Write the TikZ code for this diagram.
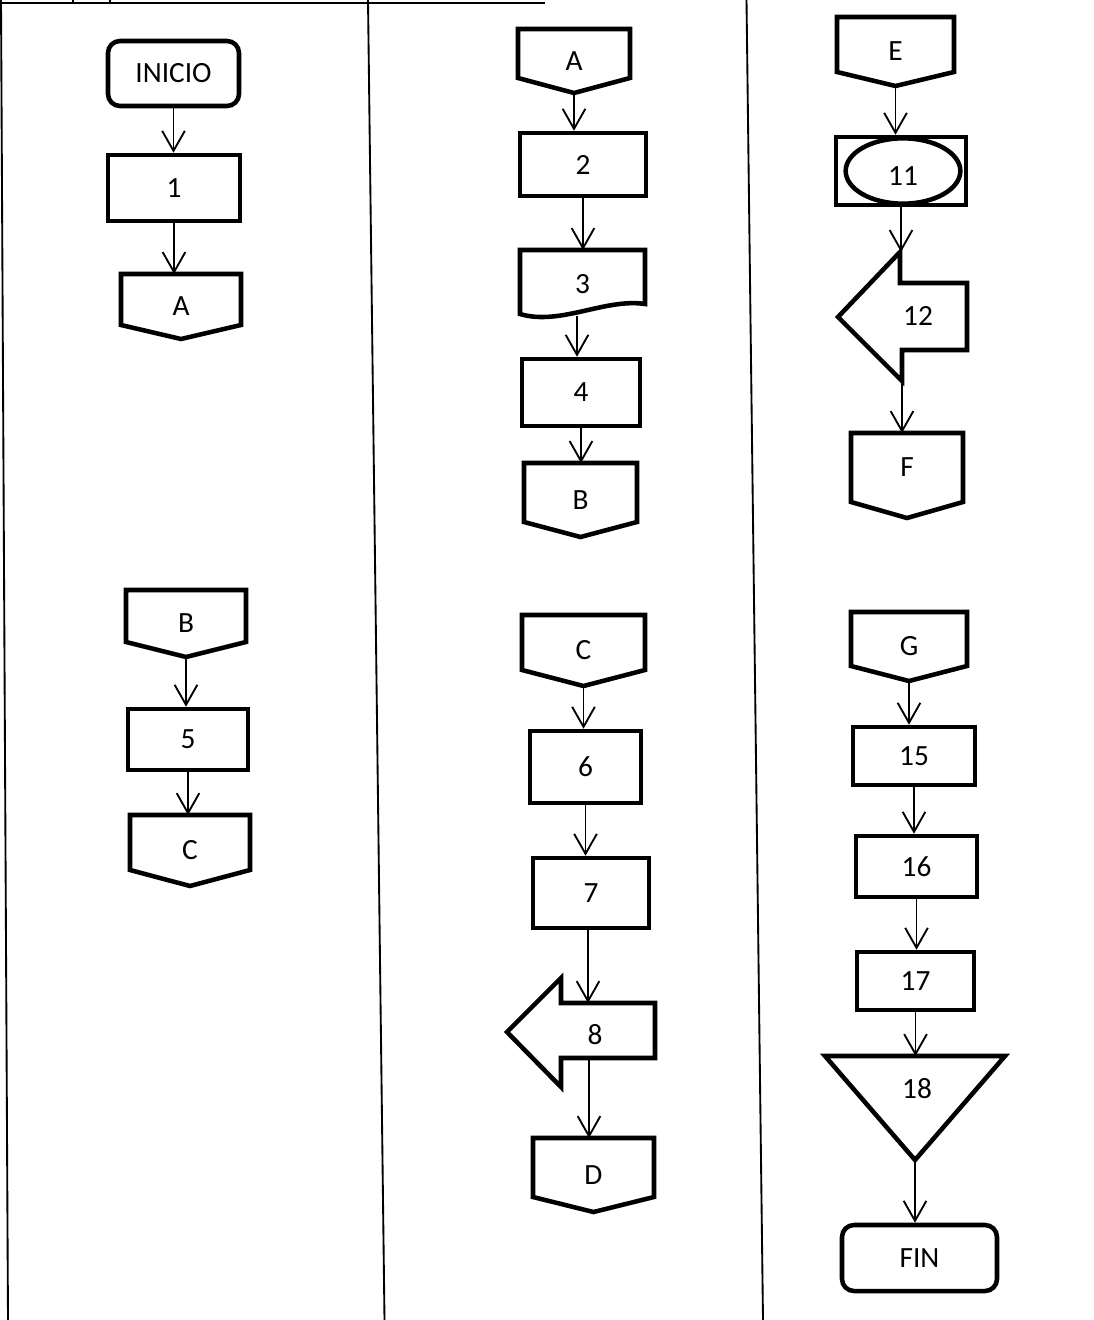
\documentclass[tikz,border=0pt]{standalone}
\usepackage{fontspec}
\setmainfont{Carlito}
\usetikzlibrary{arrows.meta,calc}
\newcommand{\opconn}[2]{\draw[outl] (#1.north west) -- (#1.north east) -- ($(#1.south east)+(0,-#2)$) -- (#1.south) -- ($(#1.south west)+(0,-#2)$) -- cycle;}
\begin{document}
\begin{tikzpicture}[x=0.75pt,y=-0.75pt,
  lbl/.style={font=\fontsize{22}{26}\selectfont},
  sz/.style 2 args={minimum width=#1*0.75pt,minimum height=#2*0.75pt},
  shp/.style={lbl,inner sep=0pt,outer sep=0pt},
  proc/.style={shp,draw,line width=3.4pt,outer sep=1.7pt},
  term/.style={proc,rounded corners=9pt},
  outl/.style={line width=3.4pt,line join=miter},
  arr/.style={line width=1.4pt,-{Straight Barb[length=15pt,width=17pt,line width=1.4pt]}},
  frame/.style={line width=1.4pt},
]
\useasboundingbox (0,0) rectangle (1094,1320);

% frame lines
\draw[frame] (0,3) -- (545,3);
\draw[frame] (73,0) -- (73,4);
\draw[frame] (110,0) -- (110,4);
\draw[frame] (1,0) -- (8,1320);
\draw[frame] (368,0) -- (384.5,1320);
\draw[frame] (746.5,0) -- (763,1320);

% ---------- column 1
\node[term,sz={131}{65}] (ini) at (173.5,73.5) {INICIO};
\node[proc,sz={132}{66}] (p1) at (174,188) {1};
\node[shp,sz={120}{65}] (A1) at (181,306.5) {A}; \opconn{A1}{14}
\node[shp,sz={120}{67}] (B1) at (186,623.5) {B}; \opconn{B1}{15}
\node[proc,sz={120}{61}] (p5) at (188,739.5) {5};
\node[shp,sz={120}{71}] (C1) at (190,850.5) {C}; \opconn{C1}{16}

\draw[arr] (ini.south) -- (ini.south |- p1.north);
\draw[arr] (p1.south) -- (p1.south |- A1.north);
\draw[arr] (B1.south) -- (B1.south |- p5.north);
\draw[arr] (p5.south) -- (p5.south |- C1.north);

% ---------- column 2
\node[shp,sz={112}{64}] (A2) at (574,61) {A}; \opconn{A2}{15}
\node[proc,sz={126}{63}] (p2) at (583,164.5) {2};
\node[shp,sz={125}{68}] (p3) at (582.5,284) {3};
\draw[outl] (p3.north west) -- (p3.north east) -- ($(p3.south east)+(0,-14)$)
  .. controls ($(p3.south east)+(-40,-20)$) and ($(p3.south west)+(40,8)$) .. ($(p3.south west)+(0,-4)$) -- cycle;
\coordinate (p3out) at (577,316);
\node[proc,sz={118}{67}] (p4) at (581,392.5) {4};
\node[shp,sz={113}{74}] (B2) at (580.5,500) {B}; \opconn{B2}{15}

\draw[arr] (A2.south) -- (A2.south |- p2.north);
\draw[arr] (p2.south) -- (p2.south |- p3.north);
\draw[arr] (p3out) -- (p3out |- p4.north);
\draw[arr] (p4.south) -- (p4.south |- B2.north);

\node[shp,sz={123}{71}] (C2) at (583.5,650.5) {C}; \opconn{C2}{16}
\node[proc,sz={111}{72}] (p6) at (585.5,767) {6};
\node[proc,sz={116}{70}] (p7) at (591,893) {7};
\node[shp,sz={148}{109}] (p8) at (581,1032.5) {};
\draw[outl] (507,1032) -- (561,978) -- (561,1003) -- (655,1003) -- (655,1058) -- (561,1058) -- (561,1087) -- cycle;
\node[shp] (t8) at (595,1035) {8};
\coordinate (p8in) at (588,1003);
\coordinate (p8out) at (589,1058);
\node[shp,sz={121}{74}] (D2) at (593.5,1175) {D}; \opconn{D2}{15}

\draw[arr] (C2.south) -- (C2.south |- p6.north);
\draw[arr] (p6.south) -- (p6.south |- p7.north);
\draw[arr] (p7.south -| p8in) -- (p8in);
\draw[arr] (p8out) -- (p8out |- D2.north);

% ---------- column 3
\node[shp,sz={117}{69}] (E3) at (895.5,51.5) {E}; \opconn{E3}{14}
\node[proc,sz={130}{68}] (p11) at (901,171) {};
\node[shp] (t11) at (903,176) {11};
\draw[outl] ($(p11.center)+(2,0)$) ellipse [x radius=43pt, y radius=24.5pt];
\node[shp,sz={129}{129}] (p12) at (902.5,316.5) {};
\draw[outl] (838,317) -- (900,252) -- (900,283) -- (967,283) -- (967,350) -- (902,350) -- (902,381) -- cycle;
\node[shp] (t12) at (918,316) {12};
\coordinate (p12in) at (900,252);
\coordinate (p12out) at (902,381);
\node[shp,sz={112}{85}] (F3) at (907,475.5) {}; \opconn{F3}{16}
\node[shp] (tF) at (907,467) {F};

\draw[arr] (E3.south) -- (E3.south |- p11.north);
\draw[arr] (p11.south) -- (p11.south |- p12in);
\draw[arr] (p12out) -- (p12out |- F3.north);

\node[shp,sz={116}{69}] (G3) at (909,646.5) {G}; \opconn{G3}{15}
\node[proc,sz={122}{58}] (p15) at (914,756) {15};
\node[proc,sz={121}{61}] (p16) at (916.5,866.5) {16};
\node[proc,sz={117}{58}] (p17) at (915.5,981) {17};
\node[shp,sz={180}{104}] (p18) at (915,1108) {};
\draw[outl] (p18.north west) -- (p18.north east) -- (p18.south) -- cycle;
\node[shp] (t18) at (917,1089) {18};
\node[term,sz={155}{66}] (fin) at (919.5,1258) {FIN};

\draw[arr] (G3.south) -- (G3.south |- p15.north);
\draw[arr] (p15.south) -- (p15.south |- p16.north);
\draw[arr] (p16.south) -- (p16.south |- p17.north);
\draw[arr] (p17.south) -- (p17.south |- p18.north);
\draw[arr] (p18.south) -- (p18.south |- fin.north);
\end{tikzpicture}
\end{document}
